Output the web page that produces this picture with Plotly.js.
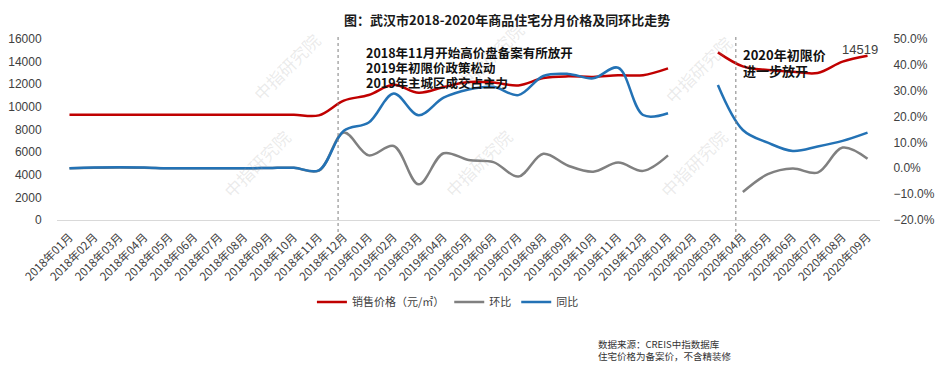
<!DOCTYPE html>
<html>
<head>
<meta charset="utf-8">
<script src="https://cdn.plot.ly/plotly-3.0.1.min.js"></script>
<style>
  html, body { margin: 0; padding: 0; background: #ffffff; }
  #chart { width: 937px; height: 367px; }
</style>
</head>
<body>
<div id="chart"></div>
<script>
// ---- data ----
const months = [
  "2018年01月","2018年02月","2018年03月","2018年04月","2018年05月","2018年06月",
  "2018年07月","2018年08月","2018年09月","2018年10月","2018年11月","2018年12月",
  "2019年01月","2019年02月","2019年03月","2019年04月","2019年05月","2019年06月",
  "2019年07月","2019年08月","2019年09月","2019年10月","2019年11月","2019年12月",
  "2020年01月","2020年02月","2020年03月","2020年04月","2020年05月","2020年06月",
  "2020年07月","2020年08月","2020年09月"
];
// 销售价格（元/㎡）
const price = [
  9300, 9300, 9300, 9300, 9300, 9300, 9300, 9300, 9300, 9300, 9250, 10550,
  11050, 11950, 11250, 11750, 12200, 12150, 11900, 12550, 12700, 12650, 12800, 12800,
  13400, null, 14820, 13580, 13250, 13100, 13000, 14000, 14519
];
// 环比 (%)
const mom = [
  0.0, 0.2, 0.3, 0.2, 0.0, 0.0, 0.0, 0.0, 0.1, 0.2, -0.9, 13.8,
  5.0, 8.6, -6.2, 5.8, 3.2, 2.4, -3.2, 5.6, 1.0, -1.3, 2.2, -1.0,
  5.0, null, null, -9.2, -2.3, -0.1, -1.7, 8.0, 3.7
];
// 同比 (%)
const yoy = [
  0.0, 0.3, 0.4, 0.3, 0.0, 0.0, 0.0, 0.0, 0.1, 0.2, -0.8, 14.5,
  17.7, 28.9, 20.5, 27.3, 30.5, 31.5, 28.3, 35.7, 36.5, 34.8, 38.9, 20.6,
  21.3, null, 32.2, 14.8, 9.9, 6.7, 8.4, 10.6, 13.8
];
const lastPriceLabel = "14519";
const titleText = "图：武汉市2018-2020年商品住宅分月价格及同环比走势";
const note1Lines = ["2018年11月开始高价盘备案有所放开", "2019年初限价政策松动", "2019年主城区成交占主力"];
const note2Lines = ["2020年初限价", "进一步放开"];
const sourceText = "数据来源：CREIS中指数据库<br>住宅价格为备案价，不含精装修";
const watermark = "中指研究院";

const FONT = "'Liberation Sans', Arial, 'Noto Sans CJK SC', sans-serif";
const CJK = "'Noto Sans CJK SC', 'Liberation Sans', sans-serif";

const traces = [
  {
    x: months, y: price, name: "销售价格（元/㎡）", type: "scatter", mode: "lines",
    line: { color: "#C00000", width: 2.5, shape: "spline", smoothing: 1 },
    connectgaps: false, yaxis: "y"
  },
  {
    x: months, y: mom, name: "环比", type: "scatter", mode: "lines",
    line: { color: "#808080", width: 2.5, shape: "spline", smoothing: 1 },
    connectgaps: false, yaxis: "y2"
  },
  {
    x: months, y: yoy, name: "同比", type: "scatter", mode: "lines",
    line: { color: "#2372B5", width: 2.5, shape: "spline", smoothing: 1 },
    connectgaps: false, yaxis: "y2"
  }
];

// paper helpers (plot area: x 57..880, y 39..220)
const px = v => (v - 57) / 823;
const py = v => (220 - v) / 181;

const wmPos = [[245, 25], [490, 15], [740, 28], [215, 205], [478, 205], [735, 205]];
const annotations = wmPos.map(p => ({
  xref: "paper", yref: "paper", x: px(p[0]), y: py(p[1]),
  text: watermark, showarrow: false, textangle: -45,
  font: { family: CJK, size: 17, color: "rgba(160,160,160,0.22)" }
}));

annotations.push({
  xref: "paper", yref: "paper", x: px(507), y: py(20), xanchor: "center", yanchor: "middle",
  text: "<b>" + titleText + "</b>", showarrow: false,
  font: { family: CJK, size: 13, color: "#1a1a1a" }
});
note1Lines.forEach((t, i) => annotations.push({
  xref: "paper", yref: "paper", x: px(364), y: py(52 + 15 * i), xanchor: "left", yanchor: "middle",
  text: "<b>" + t + "</b>", showarrow: false, height: 14,
  font: { family: CJK, size: 12.5, color: "#111111" }
}));
note2Lines.forEach((t, i) => annotations.push({
  xref: "paper", yref: "paper", x: px(741), y: py(54 + 16 * i), xanchor: "left", yanchor: "middle",
  text: "<b>" + t + "</b>", showarrow: false, height: 15,
  font: { family: CJK, size: 13, color: "#111111" }
}));
annotations.push(
  {
    xref: "x", yref: "y", x: months[months.length - 1], y: price[price.length - 1],
    text: lastPriceLabel, showarrow: false, yanchor: "bottom", xshift: -8, yshift: -3,
    font: { family: FONT, size: 13, color: "#404040" }
  },
  {
    xref: "paper", yref: "paper", x: px(596), y: py(335), xanchor: "left", yanchor: "top",
    text: sourceText, showarrow: false, align: "left",
    font: { family: CJK, size: 9.5, color: "#333333" }
  }
);

const shapes = [10.77, 26.72].map(xv => ({
  type: "line", xref: "x", yref: "paper", x0: xv, x1: xv, y0: py(238), y1: py(37),
  line: { color: "#7f7f7f", width: 1, dash: "dot" }
}));

const layout = {
  width: 937, height: 367,
  margin: { l: 57, r: 57, t: 39, b: 147, pad: 0 },
  paper_bgcolor: "#ffffff", plot_bgcolor: "#ffffff",
  font: { family: FONT, size: 12, color: "#404040" },
  showlegend: true,
  legend: {
    orientation: "h", x: 0.475, xanchor: "center", y: py(302), yanchor: "middle",
    font: { family: CJK, size: 11, color: "#404040" },
    itemwidth: 30, tracegroupgap: 0
  },
  xaxis: {
    type: "category", range: [-0.5, 32.5], tickangle: -45,
    showgrid: false, zeroline: false,
    showline: true, linecolor: "#d9d9d9", linewidth: 1,
    ticks: "outside", ticklen: 5, tickcolor: "rgba(0,0,0,0)",
    tickfont: { family: CJK, size: 11.5, color: "#404040" },
    fixedrange: true
  },
  yaxis: {
    range: [0, 16000], dtick: 2000, tick0: 0, tickformat: "d",
    showgrid: false, zeroline: false, showline: false,
    ticks: "outside", ticklen: 12, tickcolor: "rgba(0,0,0,0)",
    tickfont: { family: FONT, size: 12, color: "#404040" },
    fixedrange: true
  },
  yaxis2: {
    overlaying: "y", side: "right",
    range: [-20, 50], dtick: 10, tick0: 0,
    tickformat: ".1f", ticksuffix: "%",
    showgrid: false, zeroline: false, showline: false,
    ticks: "outside", ticklen: 10, tickcolor: "rgba(0,0,0,0)",
    tickfont: { family: FONT, size: 12, color: "#404040" },
    fixedrange: true
  },
  annotations: annotations,
  shapes: shapes
};

Plotly.newPlot("chart", traces, layout, { displayModeBar: false, staticPlot: true });
</script>
</body>
</html>
